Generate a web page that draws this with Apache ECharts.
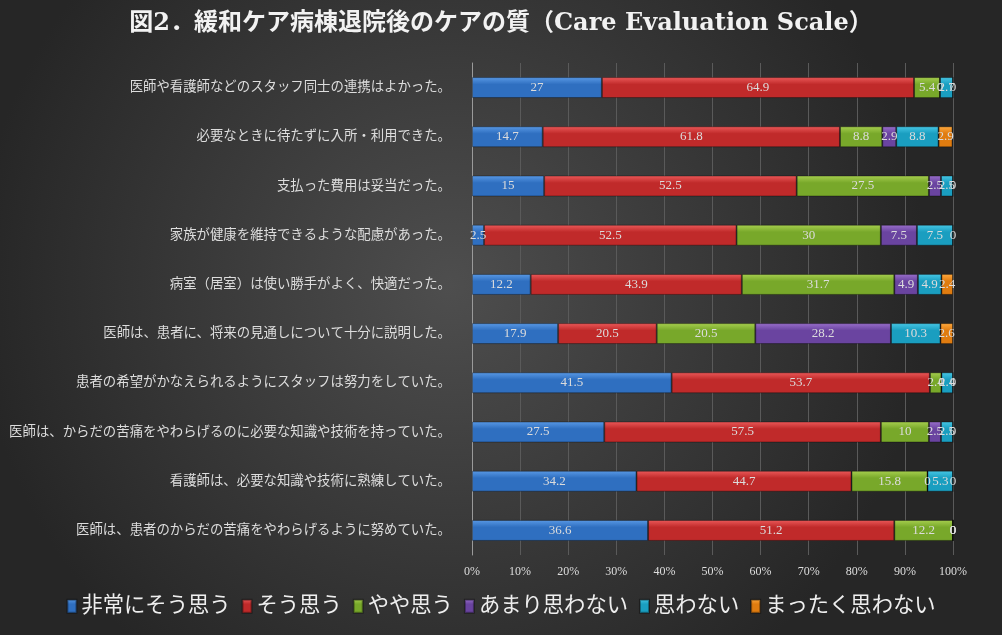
<!DOCTYPE html>
<html>
<head>
<meta charset="utf-8">
<script src="https://cdn.jsdelivr.net/npm/echarts@6/dist/echarts.min.js"></script>
<style>
  html, body { margin: 0; padding: 0; background: #2b2b2b; }
  #main { width: 1002px; height: 635px; }
</style>
</head>
<body>
<div id="main"></div>
<script>
// items, top to bottom
const categories = [
  '医師や看護師などのスタッフ同士の連携はよかった。',
  '必要なときに待たずに入所・利用できた。',
  '支払った費用は妥当だった。',
  '家族が健康を維持できるような配慮があった。',
  '病室（居室）は使い勝手がよく、快適だった。',
  '医師は、患者に、将来の見通しについて十分に説明した。',
  '患者の希望がかなえられるようにスタッフは努力をしていた。',
  '医師は、からだの苦痛をやわらげるのに必要な知識や技術を持っていた。',
  '看護師は、必要な知識や技術に熟練していた。',
  '医師は、患者のからだの苦痛をやわらげるように努めていた。'
];
const seriesNames = ['非常にそう思う', 'そう思う', 'やや思う', 'あまり思わない', '思わない', 'まったく思わない'];
const veryMuch  = [27, 14.7, 15, 2.5, 12.2, 17.9, 41.5, 27.5, 34.2, 36.6];
const agree     = [64.9, 61.8, 52.5, 52.5, 43.9, 20.5, 53.7, 57.5, 44.7, 51.2];
const somewhat  = [5.4, 8.8, 27.5, 30, 31.7, 20.5, 2.4, 10, 15.8, 12.2];
const notMuch   = [0, 2.9, 2.5, 7.5, 4.9, 28.2, 0, 2.5, 0, 0];
const disagree  = [2.7, 8.8, 2.5, 7.5, 4.9, 10.3, 2.4, 2.5, 5.3, 0];
const notAtAll  = [0, 2.9, 0, 0, 2.4, 2.6, 0, 0, 0, 0];
const xTicks = [0, 10, 20, 30, 40, 50, 60, 70, 80, 90, 100];

const values = [veryMuch, agree, somewhat, notMuch, disagree, notAtAll];
const colors = [
  ['#5a9ae6', '#2f6fc0'],
  ['#ec5a5a', '#c02a2a'],
  ['#a8d050', '#78a82a'],
  ['#9a70cc', '#6a44a0'],
  ['#48c8e6', '#1a9ec0'],
  ['#ffaa40', '#e07c10']
];

const serif = '"Liberation Serif", "Noto Sans CJK JP", serif';

const myChart = echarts.init(document.getElementById('main'));

const option = {
  backgroundColor: {
    type: 'radial', x: 0.45, y: 0.45, r: 0.75,
    colorStops: [
      { offset: 0, color: '#4e4e4e' },
      { offset: 1, color: '#262626' }
    ]
  },
  animation: false,
  title: {
    text: '図2．緩和ケア病棟退院後のケアの質（Care Evaluation Scale）',
    left: 'center',
    top: 7,
    textStyle: {
      color: '#f2f2f2',
      fontSize: 24,
      fontWeight: 'bold',
      fontFamily: '"DejaVu Serif", "Noto Sans CJK JP", serif'
    }
  },
  legend: {
    bottom: 13,
    left: 'center',
    itemWidth: 9,
    itemHeight: 13,
    itemGap: 11,
    icon: 'rect',
    textStyle: { color: '#eeeeee', fontSize: 21.3, fontFamily: serif },
    data: seriesNames
  },
  grid: { left: 472, right: 49, top: 63, bottom: 80 },
  xAxis: {
    type: 'value',
    min: 0,
    max: 100,
    interval: 10,
    axisLabel: {
      color: '#dddddd',
      fontSize: 12,
      fontFamily: serif,
      margin: 11,
      formatter: v => xTicks.includes(v) ? v + '%' : ''
    },
    axisLine: { show: false },
    axisTick: { show: false },
    splitLine: { lineStyle: { color: '#5a5a5a', width: 1 } }
  },
  yAxis: {
    type: 'category',
    inverse: true,
    data: categories,
    axisLine: { show: true, lineStyle: { color: '#9a9a9a' } },
    axisTick: { show: false },
    axisLabel: { color: '#dddddd', fontSize: 13.4, fontFamily: serif, margin: 21 }
  },
  series: seriesNames.map((name, i) => ({
    name: name,
    type: 'bar',
    stack: 'total',
    barWidth: 21,
    data: values[i],
    itemStyle: {
      color: {
        type: 'linear', x: 0, y: 0, x2: 0, y2: 1,
        colorStops: [
          { offset: 0, color: colors[i][0] },
          { offset: 0.35, color: colors[i][1] },
          { offset: 1, color: colors[i][1] }
        ]
      },
      borderColor: 'rgba(0,0,0,0.35)',
      borderWidth: 1
    },
    label: {
      show: true,
      position: 'inside',
      color: '#dcdcdc',
      fontSize: 13,
      fontFamily: serif,
      formatter: p => String(p.value)
    }
  }))
};

option && myChart.setOption(option);
</script>
</body>
</html>
